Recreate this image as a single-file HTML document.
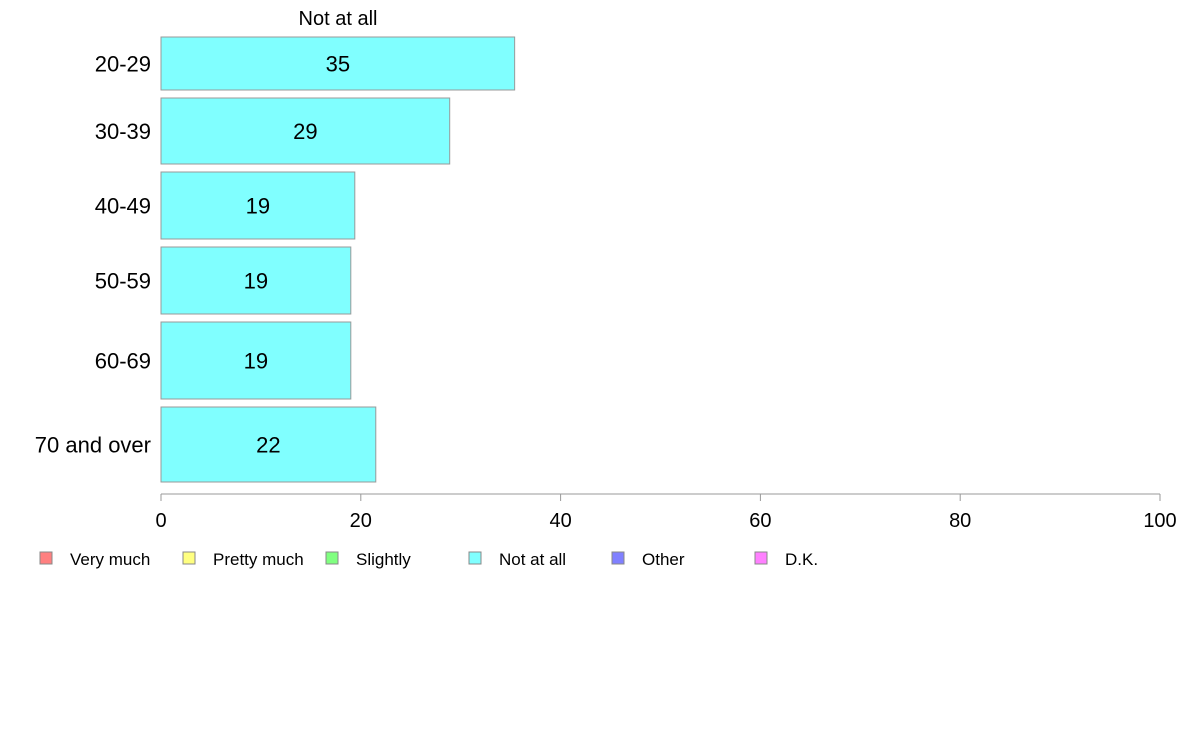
<!DOCTYPE html>
<html><head><meta charset="utf-8"><style>
body{margin:0;background:#fff;}
svg{display:block;font-family:"Liberation Sans",Arial,sans-serif;}
</style></head><body>
<svg id="chart" width="1188" height="736"></svg>
<script>
const categories=["20-29","30-39","40-49","50-59","60-69","70 and over"];
const values=[35.4,28.9,19.4,19.0,19.0,21.5];
const labels=["35","29","19","19","19","22"];
const weights=[53,66,67,67,77,75];
const ticks=[0,20,40,60,80,100];
const legendNames=["Very much","Pretty much","Slightly","Not at all","Other","D.K."];
const legendColors=["#ff8080","#ffff80","#80ff80","#80ffff","#8080ff","#ff80ff"];

const NS="http://www.w3.org/2000/svg";
const svg=document.getElementById('chart');
function mk(t,a,txt){const e=document.createElementNS(NS,t);for(const k in a)e.setAttribute(k,a[k]);if(txt!=null)e.textContent=txt;svg.appendChild(e);return e;}
const x0=161,x1=1160;
const xs=v=>x0+(x1-x0)*v/100;
const yTop=37,yBot=482,gap=8;
const totalW=weights.reduce((a,b)=>a+b,0);
const unit=(yBot-yTop-gap*(categories.length-1))/totalW;

let t=mk('text',{x:338,y:25,'font-size':20,'text-anchor':'middle'},"Not at all");



let y=yTop;
categories.forEach((c,i)=>{
  const h=weights[i]*unit;
  const r=mk('rect',{x:x0,y:y,width:xs(values[i])-x0,height:h,fill:'#80ffff',stroke:'#999','stroke-width':1});
  
  
  const l=mk('text',{x:(x0+xs(values[i]))/2,y:y+h/2+8,'font-size':22,'text-anchor':'middle'},labels[i]);
  
  
  const cl=mk('text',{x:151,y:y+h/2+8,'font-size':22,'text-anchor':'end'},c);
  
  
  y+=h+gap;
});

const ax=mk('line',{x1:x0,y1:494,x2:x1,y2:494,stroke:'#999','stroke-width':1});


ticks.forEach(v=>{
  const tk=mk('line',{x1:xs(v),y1:494,x2:xs(v),y2:501,stroke:'#999','stroke-width':1});
  
  
  const tl=mk('text',{x:xs(v),y:527,'font-size':20,'text-anchor':'middle'},String(v));
  
  
});

legendNames.forEach((n,i)=>{
  const lx=40+143*i;
  const s=mk('rect',{x:lx,y:552,width:12,height:12,fill:legendColors[i],stroke:'#888','stroke-width':1});
  
  
  const lt=mk('text',{x:lx+30,y:565,'font-size':17},n);
  
  
});
</script>
</body></html>
